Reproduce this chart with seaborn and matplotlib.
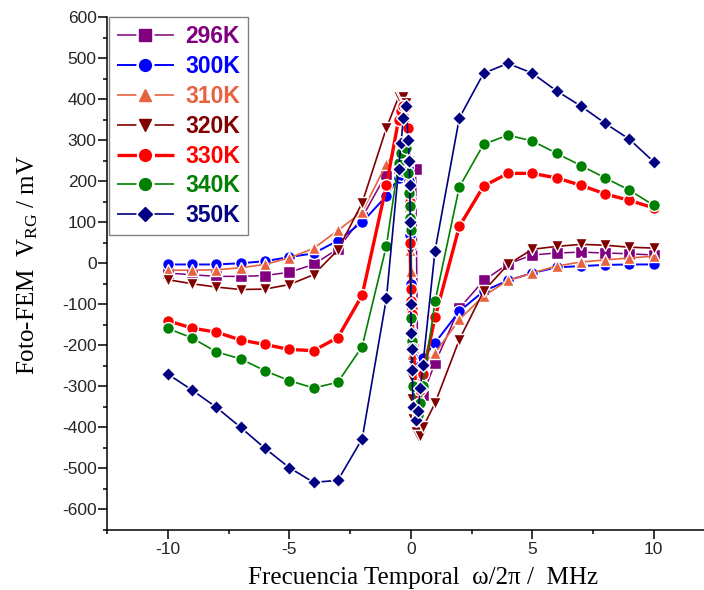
import matplotlib
matplotlib.use("Agg")
import matplotlib.pyplot as plt
import seaborn as sns
from matplotlib.lines import Line2D
from matplotlib.ticker import MultipleLocator

# Frequency axis (MHz): coarse steps on the wings, fine steps around zero
freq = [-10, -9, -8, -7, -6, -5, -4, -3, -2, -1,
        -0.5, -0.4, -0.3, -0.2, -0.1, -0.06, -0.04, -0.02, 0,
        0.02, 0.04, 0.06, 0.1, 0.2, 0.3, 0.4, 0.5,
        1, 2, 3, 4, 5, 6, 7, 8, 9, 10]

# Photo-EMF (mV) for each temperature
v296 = [-24, -28, -32, -32, -30, -22, -3, 35, 112, 218,
        222, 225, 228, 230, 230, 229, 229, 229, 229,
        229, 229, 229, 229, 229, -320, -335, -320,
        -243, -110, -42, -2, 20, 25, 27, 25, 23, 20]
v300 = [-3, -3, -3, 0, 5, 15, 24, 55, 100, 164,
        208, 215, 225, 235, 235, 200, 150, 70, 41,
        -50, -120, -170, -230, -260, -270, -250, -230,
        -194, -117, -68, -42, -24, -10, -7, -4, -3, -3]
v310 = [-17, -17, -16, -11, -3, 13, 36, 80, 125, 242,
        280, 290, 280, 260, 200, 140, 54, 32, -20,
        -100, -170, -220, -260, -290, -290, -264, -245,
        -219, -137, -80, -42, -24, -7, 3, 8, 13, 17]
v320 = [-40, -50, -58, -64, -63, -52, -28, 32, 147, 330,
        405, 407, 405, 390, 330, 250, 150, 30, -100,
        -200, -280, -330, -380, -410, -420, -420, -400,
        -341, -186, -68, -3, 34, 41, 46, 44, 39, 37]
v330 = [-140, -158, -168, -187, -198, -210, -213, -181, -78, 190,
        350, 371, 383, 380, 330, 250, 150, 50, -63,
        -93, -112, -124, -200, -300, -330, -310, -270,
        -132, 90, 188, 219, 219, 208, 190, 169, 153, 135]
v340 = [-159, -182, -216, -233, -262, -286, -304, -290, -203, 43,
        245, 269, 293, 280, 220, 172, 139, 111, 82,
        -133, -190, -207, -300, -345, -370, -340, -300,
        -93, 186, 290, 312, 298, 268, 238, 208, 178, 141]
v350 = [-270, -309, -351, -400, -451, -498, -534, -529, -428, -85,
        229, 294, 355, 383, 300, 250, 190, 100, -100,
        -170, -210, -260, -350, -381, -361, -304, -247,
        31, 354, 463, 487, 463, 420, 383, 341, 302, 247]

labels = ["296K", "300K", "310K", "320K", "330K", "340K", "350K"]
values = [v296, v300, v310, v320, v330, v340, v350]
colors = ["#800080", "#0000FF", "#E8623F", "#800000", "#FF0000", "#008000", "#000080"]
markers = ["s", "o", "^", "v", "o", "o", "D"]
msizes = [8, 8.5, 8.5, 8.5, 8.5, 8.5, 7.5]
widths = [1.1, 1.4, 1.2, 1.2, 2.4, 1.2, 1.2]

sns.set_theme(style="ticks")
plt.rcParams.update({
    "font.family": ["Liberation Sans", "DejaVu Sans"],
    "axes.unicode_minus": False,
    "lines.scale_dashes": False,
    "mathtext.fontset": "custom",
    "mathtext.rm": "Liberation Serif",
    "mathtext.it": "Liberation Serif:italic",
    "axes.linewidth": 1.1,
    "xtick.direction": "out",
    "ytick.direction": "out",
})

fig = plt.figure(figsize=(7.04, 5.90), dpi=100)
ax = fig.add_axes([107 / 704, 60 / 590, 607.5 / 704, 513 / 590])

for vals, c, m, ms, lw in zip(values, colors, markers, msizes, widths):
    sns.lineplot(x=freq, y=vals, color=c, marker=m, markersize=ms,
                 linewidth=lw, markeredgecolor="white", markeredgewidth=1.0,
                 sort=False, legend=False, ax=ax)

ax.set_xlim(-12.5, 12.5)
ax.set_ylim(-650, 600)
ax.set_xticks([-10, -5, 0, 5, 10])
ax.xaxis.set_minor_locator(MultipleLocator(2.5))
ax.set_yticks(range(-600, 601, 100))
ax.yaxis.set_minor_locator(MultipleLocator(50))
ax.tick_params(which="major", length=6.5, width=1.1, labelsize=12.5, color="black")
ax.tick_params(which="minor", length=3, width=1.1, color="black")
ax.tick_params(axis="y", which="major", pad=1)
ax.tick_params(axis="x", which="major", pad=2)
for s in ("top", "right"):
    ax.spines[s].set_visible(False)
for s in ("left", "bottom"):
    ax.spines[s].set_color("black")

ax.set_xlabel("Frecuencia Temporal  ω/2π /  MHz", fontfamily="Liberation Serif",
              fontsize=18, color="black")
ax.set_ylabel("Foto-FEM  V$_{\\mathrm{RG}}$ / mV", fontfamily="Liberation Serif",
              fontsize=18, color="black")
ax.xaxis.label.set_va("center")
ax.yaxis.label.set_va("center")
ax.xaxis.set_label_coords(0.52, -0.0935)
ax.yaxis.set_label_coords(-0.130, 0.517)

handles = [Line2D([0], [0], color=c, lw=lw, ls=(0, (14, 13)), marker=m,
                  markersize=ms, markeredgecolor=c)
           for c, m, ms, lw in zip(colors, markers, msizes, widths)]
leg = ax.legend(handles=handles, labels=labels, loc="upper left",
                bbox_to_anchor=(109 / 704, 1 - 17 / 590),
                bbox_transform=fig.transFigure, borderaxespad=0,
                prop={"family": "Liberation Sans", "weight": "bold", "size": 16.5},
                handlelength=2.485, handletextpad=0.5, labelspacing=0.3,
                borderpad=0.35, frameon=True, fancybox=False,
                edgecolor="#808080", framealpha=1)
leg.get_frame().set_linewidth(1.0)
for t, c in zip(leg.get_texts(), colors):
    t.set_color(c)

fig.savefig("out.png", dpi=100)
